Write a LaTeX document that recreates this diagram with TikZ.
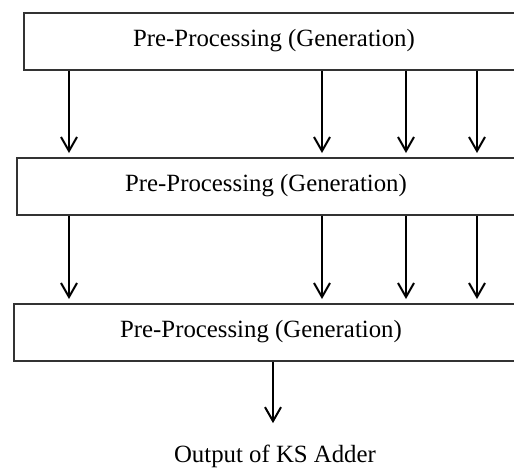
\documentclass[tikz,border=0pt]{standalone}
\usepackage{fontspec}
\setmainfont{Liberation Serif}
\usetikzlibrary{arrows.meta, positioning}

\tikzset{
  stage/.style={draw=black!80, line width=0.75pt, minimum width=262pt, minimum height=28.5pt, inner sep=0pt, anchor=north west},
  caption/.style={font=\fontsize{12.4}{14}\selectfont, inner sep=0pt},
  flow/.style={line width=1pt, -{Straight Barb[length=7pt,width=8pt,line width=1pt]}, shorten >=2pt},
}

\begin{document}
\begin{tikzpicture}[x=0.5pt, y=-0.5pt]
  \useasboundingbox (0,0) rectangle (514,468);
  \clip (0,0) rectangle (514,468);
  % Stages
  \node[stage] (b1) at (23,12) {};
  \node[stage] (b2) at (16,157) {};
  \node[stage] (b3) at (13,303) {};
  % Stage texts
  \node[caption] (t1) at (274,41) {Pre-Processing (Generation)};
  \node[caption] (t2) at (266,186) {Pre-Processing (Generation)};
  \node[caption] (t3) at (261,332) {Pre-Processing (Generation)};
  \node[caption, anchor=base] (out) at (275,462) {Output of KS Adder};
  % Arrow columns
  \coordinate (c1) at (69,0);
  \coordinate (c2) at (322,0);
  \coordinate (c3) at (406,0);
  \coordinate (c4) at (477,0);
  \coordinate (c5) at (273,0);
  % Arrows
  \draw[flow] (b1.south -| c1) -- (b2.north -| c1);
  \draw[flow] (b1.south -| c2) -- (b2.north -| c2);
  \draw[flow] (b1.south -| c3) -- (b2.north -| c3);
  \draw[flow] (b1.south -| c4) -- (b2.north -| c4);
  \draw[flow] (b2.south -| c1) -- (b3.north -| c1);
  \draw[flow] (b2.south -| c2) -- (b3.north -| c2);
  \draw[flow] (b2.south -| c3) -- (b3.north -| c3);
  \draw[flow] (b2.south -| c4) -- (b3.north -| c4);
  \draw[flow, shorten >=10.5pt] (b3.south -| c5) -- (out.north -| c5);
\end{tikzpicture}
\end{document}
